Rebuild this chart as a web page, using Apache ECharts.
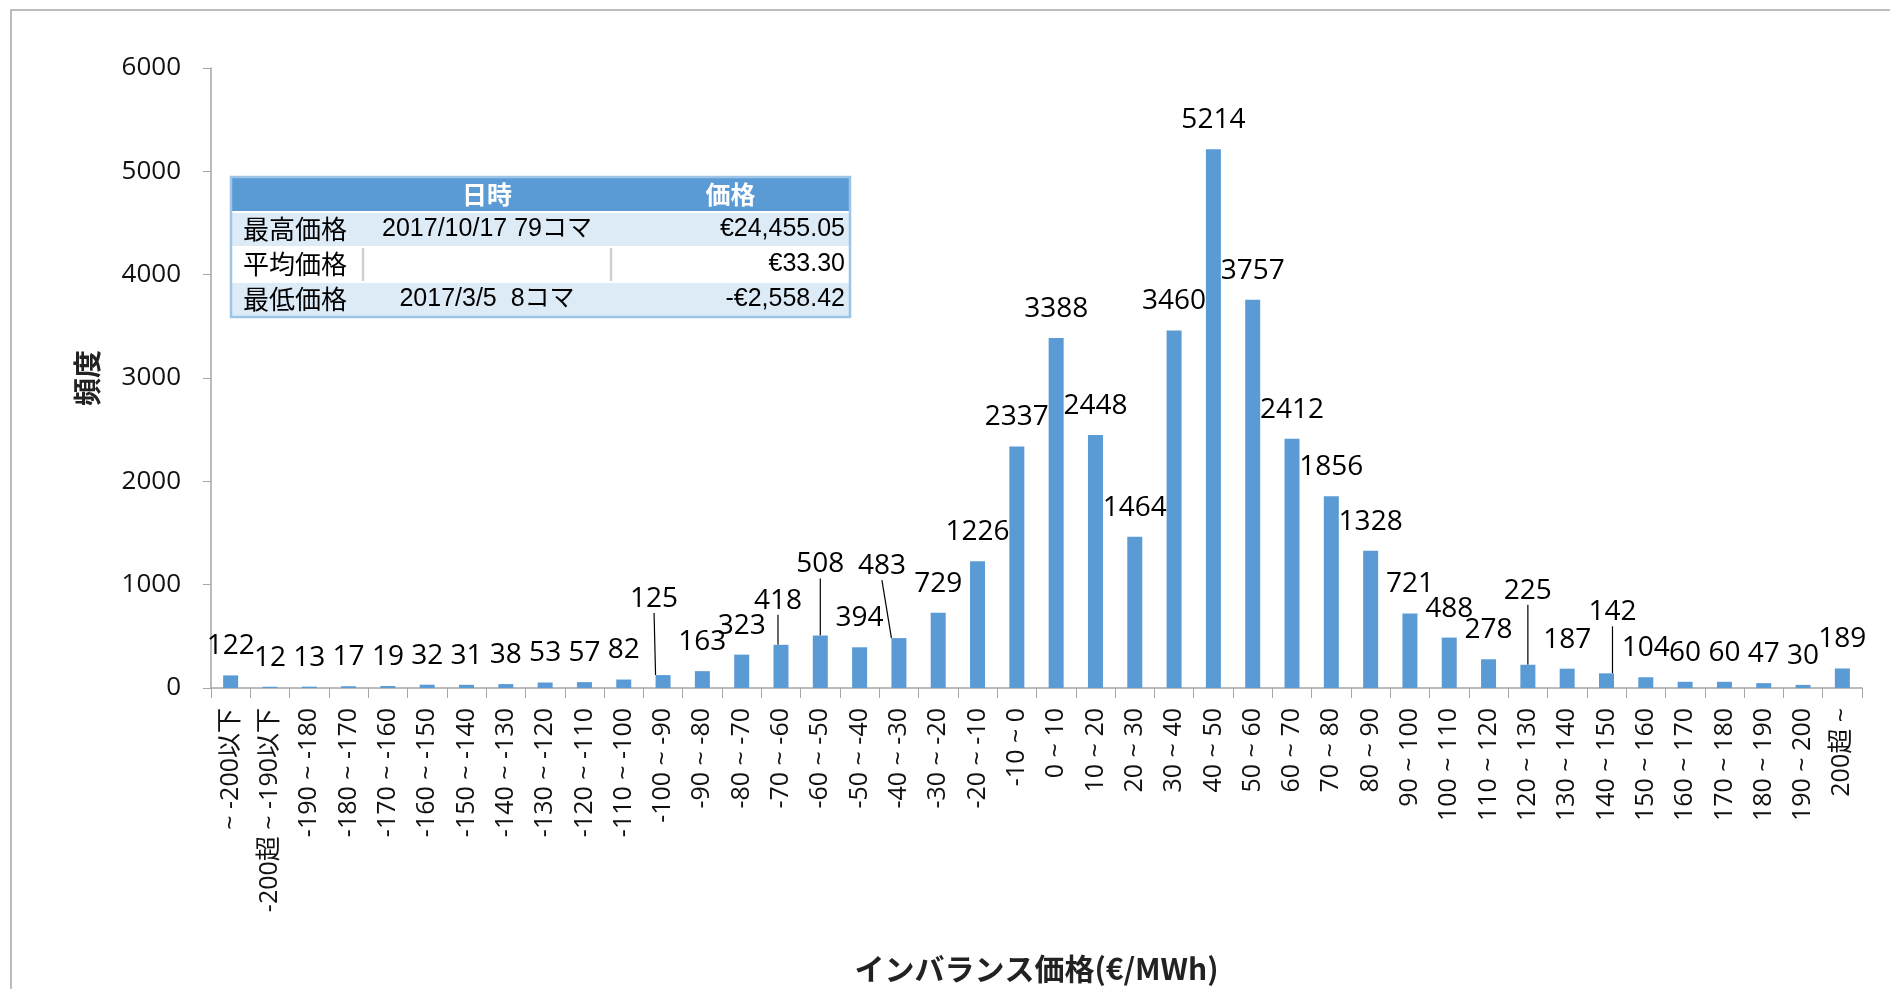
<!DOCTYPE html>
<html>
<head>
<meta charset="utf-8">
<script src="https://cdn.jsdelivr.net/npm/echarts@6/dist/echarts.min.js"></script>
<style>
  html, body { margin: 0; padding: 0; background: #fff; }
  #chart { width: 1890px; height: 989px; }
</style>
</head>
<body>
<div id="chart"></div>
<script>
// ---- data ----
const categories = [
  '~ -200以下', '-200超 ~ -190以下', '-190 ~ -180', '-180 ~ -170', '-170 ~ -160', '-160 ~ -150',
  '-150 ~ -140', '-140 ~ -130', '-130 ~ -120', '-120 ~ -110', '-110 ~ -100', '-100 ~ -90',
  '-90 ~ -80', '-80 ~ -70', '-70 ~ -60', '-60 ~ -50', '-50 ~ -40', '-40 ~ -30', '-30 ~ -20',
  '-20 ~ -10', '-10 ~ 0', '0 ~ 10', '10 ~ 20', '20 ~ 30', '30 ~ 40', '40 ~ 50', '50 ~ 60',
  '60 ~ 70', '70 ~ 80', '80 ~ 90', '90 ~ 100', '100 ~ 110', '110 ~ 120', '120 ~ 130',
  '130 ~ 140', '140 ~ 150', '150 ~ 160', '160 ~ 170', '170 ~ 180', '180 ~ 190', '190 ~ 200', '200超 ~'
];
const counts = [
  122, 12, 13, 17, 19, 32, 31, 38, 53, 57, 82, 125,
  163, 323, 418, 508, 394, 483, 729, 1226, 2337, 3388, 2448, 1464,
  3460, 5214, 3757, 2412, 1856, 1328, 721, 488, 278, 225, 187, 142,
  104, 60, 60, 47, 30, 189
];
const xAxisTitle = 'インバランス価格(€/MWh)';
const yAxisTitle = '頻度';
const tableHeader = ['', '日時', '価格'];
const tableRows = [
  ['最高価格', '2017/10/17 79コマ', '€24,455.05'],
  ['平均価格', '', '€33.30'],
  ['最低価格', '2017/3/5  8コマ', '-€2,558.42']
];

// ---- layout (label displacement with leader lines, in px) ----
const movedLabels = { 11: [-9, -47], 14: [-3, -15], 15: [0, -42], 17: [-17, -43], 33: [0, -45], 35: [6, -32] };

const BAR = '#5B9BD5';
const numFont = "'Open Sans', 'Noto Sans CJK JP', sans-serif";
const tblFont = "'Liberation Sans', 'Noto Sans CJK JP', sans-serif";

const seriesData = counts.map((v, i) => {
  const item = { value: v };
  if (movedLabels[i]) item.labelLine = { show: true };
  return item;
});

// ---- table graphic ----
const tX = [231, 363, 611, 850];
const tY = [177, 212, 247, 282, 317];
const graphics = [];
graphics.push({ type: 'rect', shape: { x: 11, y: 10, width: 1900, height: 1000 }, style: { fill: 'none', stroke: '#A6A6A6', lineWidth: 1.5 }, silent: true });
graphics.push({ type: 'rect', shape: { x: tX[0], y: tY[0], width: tX[3] - tX[0], height: tY[1] - tY[0] }, style: { fill: BAR } });
tableRows.forEach((row, r) => {
  const y0 = tY[r + 1], y1 = tY[r + 2];
  graphics.push({ type: 'rect', shape: { x: tX[0], y: y0, width: tX[3] - tX[0], height: y1 - y0 }, style: { fill: r % 2 === 0 ? '#DDEBF7' : '#FFFFFF' } });
  graphics.push({ type: 'line', shape: { x1: tX[0], y1: y0, x2: tX[3], y2: y0 }, style: { stroke: '#FFFFFF', lineWidth: 2 } });
  if (r % 2 === 1) {
    [tX[1], tX[2]].forEach(x => graphics.push({ type: 'line', shape: { x1: x, y1: y0 + 1, x2: x, y2: y1 - 1 }, style: { stroke: '#D0D0D0', lineWidth: 2.5 } }));
  }
  const cy = (y0 + y1) / 2;
  graphics.push({ type: 'text', x: tX[0] + 12, y: cy, style: { text: row[0], font: "26px 'Noto Sans CJK JP'", fill: '#000', align: 'left', verticalAlign: 'middle' } });
  graphics.push({ type: 'text', x: (tX[1] + tX[2]) / 2, y: cy, style: { text: row[1], font: "25px " + tblFont, fill: '#000', align: 'center', verticalAlign: 'middle' } });
  graphics.push({ type: 'text', x: tX[3] - 5, y: cy, style: { text: row[2], font: "25px " + tblFont, fill: '#000', align: 'right', verticalAlign: 'middle' } });
});
[1, 2].forEach(c => {
  graphics.push({ type: 'text', x: (tX[c] + tX[c + 1]) / 2, y: (tY[0] + tY[1]) / 2, style: { text: tableHeader[c], font: "bold 25px 'Noto Sans CJK JP'", fill: '#FFFFFF', align: 'center', verticalAlign: 'middle' } });
});
graphics.push({ type: 'rect', shape: { x: tX[0], y: tY[0], width: tX[3] - tX[0], height: tY[4] - tY[0] }, style: { fill: 'none', stroke: '#9DC3E6', lineWidth: 2.5 } });

const chart = echarts.init(document.getElementById('chart'));
chart.setOption({
  animation: false,
  backgroundColor: '#FFFFFF',
  grid: { left: 211, right: 28, top: 68, bottom: 296, containLabel: false },
  xAxis: {
    type: 'category',
    data: categories,
    name: xAxisTitle,
    nameLocation: 'middle',
    nameGap: 266,
    nameTextStyle: { fontFamily: "'Noto Sans CJK JP'", fontWeight: 'bold', fontSize: 30, color: '#222' },
    axisLine: { lineStyle: { color: '#A6A6A6', width: 1.5 } },
    axisTick: { show: true, length: 10, alignWithLabel: false, lineStyle: { color: '#A6A6A6' } },
    axisLabel: { interval: 0, rotate: 90, margin: 20, fontSize: 25, fontFamily: numFont, color: '#111' }
  },
  yAxis: {
    type: 'value',
    min: 0, max: 6000, interval: 1000,
    name: yAxisTitle,
    nameLocation: 'middle',
    nameGap: 110,
    nameTextStyle: { fontFamily: "'Noto Sans CJK JP'", fontWeight: 'bold', fontSize: 28, color: '#222' },
    axisLine: { show: true, lineStyle: { color: '#A6A6A6', width: 1.5 } },
    axisTick: { show: true, length: 8, lineStyle: { color: '#A6A6A6' } },
    splitLine: { show: false },
    axisLabel: { margin: 30, fontSize: 26, fontFamily: numFont, color: '#111', formatter: v => String(v) }
  },
  series: [{
    type: 'bar',
    data: seriesData,
    barWidth: 15,
    itemStyle: { color: BAR },
    label: { show: true, position: 'top', distance: 15, fontSize: 28, fontFamily: numFont, color: '#000' },
    labelLine: { show: false, lineStyle: { color: '#000', width: 1.2 } },
    labelLayout: function (p) {
      const d = movedLabels[p.dataIndex];
      return d ? { dx: d[0], dy: d[1] } : {};
    }
  }],
  graphic: graphics
});
</script>
</body>
</html>
